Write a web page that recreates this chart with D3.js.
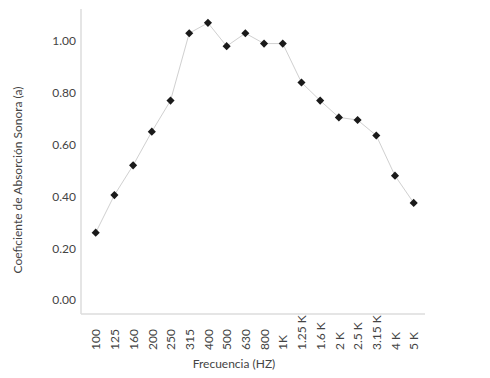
<!DOCTYPE html>
<html>
<head>
<meta charset="utf-8">
<script src="https://cdn.jsdelivr.net/npm/d3@7"></script>
<style>
  body { margin: 0; background: #fff; }
  text { font-family: Lato, "Open Sans", sans-serif; }
</style>
</head>
<body>
<div id="chart"></div>
<script>
// Frequency bands and absorption coefficients
const frequencies = ["100", "125", "160", "200", "250", "315", "400", "500", "630", "800", "1K",
  "1.25 K", "1.6 K", "2 K", "2.5 K", "3.15 K", "4 K", "5 K"];
const coefficients = [0.26, 0.405, 0.52, 0.65, 0.77, 1.03, 1.07, 0.98, 1.03, 0.99, 0.99,
  0.84, 0.77, 0.705, 0.695, 0.635, 0.48, 0.375];
const yTicks = [0, 0.2, 0.4, 0.6, 0.8, 1.0];

const width = 490, height = 378;
const plotLeft = 81, plotRight = 425, plotTop = 9, plotBottom = 314;

const svg = d3.select("#chart")
  .append("svg")
  .attr("width", width)
  .attr("height", height);

const x = d3.scalePoint()
  .domain(frequencies)
  .range([95.7, 413.7]);

const y = d3.scaleLinear()
  .domain([0, 1])
  .range([300, 41]);

// axis lines
svg.append("line")
  .attr("x1", plotLeft).attr("x2", plotLeft)
  .attr("y1", plotTop).attr("y2", plotBottom)
  .attr("stroke", "#dcdcdc").attr("stroke-width", 1.5);
svg.append("line")
  .attr("x1", plotLeft).attr("x2", plotRight)
  .attr("y1", plotBottom).attr("y2", plotBottom)
  .attr("stroke", "#dcdcdc").attr("stroke-width", 1.5);

// y tick labels
const yAxis = svg.append("g")
  .attr("transform", `translate(${plotLeft}, 0)`)
  .call(d3.axisLeft(y).tickValues(yTicks).tickFormat(d3.format(".2f")).tickSize(0).tickPadding(5));
yAxis.select(".domain").remove();
yAxis.selectAll("text")
  .attr("font-size", 12)
  .attr("font-family", "Lato, sans-serif")
  .attr("fill", "#444");

// x tick labels, rotated, reading bottom to top
const xAxis = svg.append("g")
  .attr("transform", `translate(0, ${plotBottom})`)
  .call(d3.axisBottom(x).tickSize(0));
xAxis.select(".domain").remove();
xAxis.selectAll("text")
  .attr("font-size", 12)
  .attr("font-family", "Lato, sans-serif")
  .attr("fill", "#444")
  .attr("text-anchor", "start")
  .attr("transform", "rotate(-90)")
  .attr("x", -36)
  .attr("y", 0)
  .attr("dy", "0.35em");

// axis titles
svg.append("text")
  .attr("x", 234)
  .attr("y", 368)
  .attr("text-anchor", "middle")
  .attr("font-size", 12)
  .attr("fill", "#444")
  .text("Frecuencia (HZ)");

svg.append("text")
  .attr("transform", "rotate(-90)")
  .attr("x", -180)
  .attr("y", 22)
  .attr("text-anchor", "middle")
  .attr("font-size", 12)
  .attr("fill", "#444")
  .text("Coeficiente de Absorción Sonora (a)");

// line
const line = d3.line()
  .x((d, i) => x(frequencies[i]))
  .y(d => y(d));

svg.append("path")
  .datum(coefficients)
  .attr("d", line)
  .attr("fill", "none")
  .attr("stroke", "#d0d0d0")
  .attr("stroke-width", 1);

// diamond markers
svg.selectAll(".pt")
  .data(coefficients)
  .enter().append("path")
  .attr("class", "pt")
  .attr("d", d3.symbol().type(d3.symbolDiamond2).size(42))
  .attr("transform", (d, i) => `translate(${x(frequencies[i])}, ${y(d)})`)
  .attr("fill", "#1a1a1a");
</script>
</body>
</html>
